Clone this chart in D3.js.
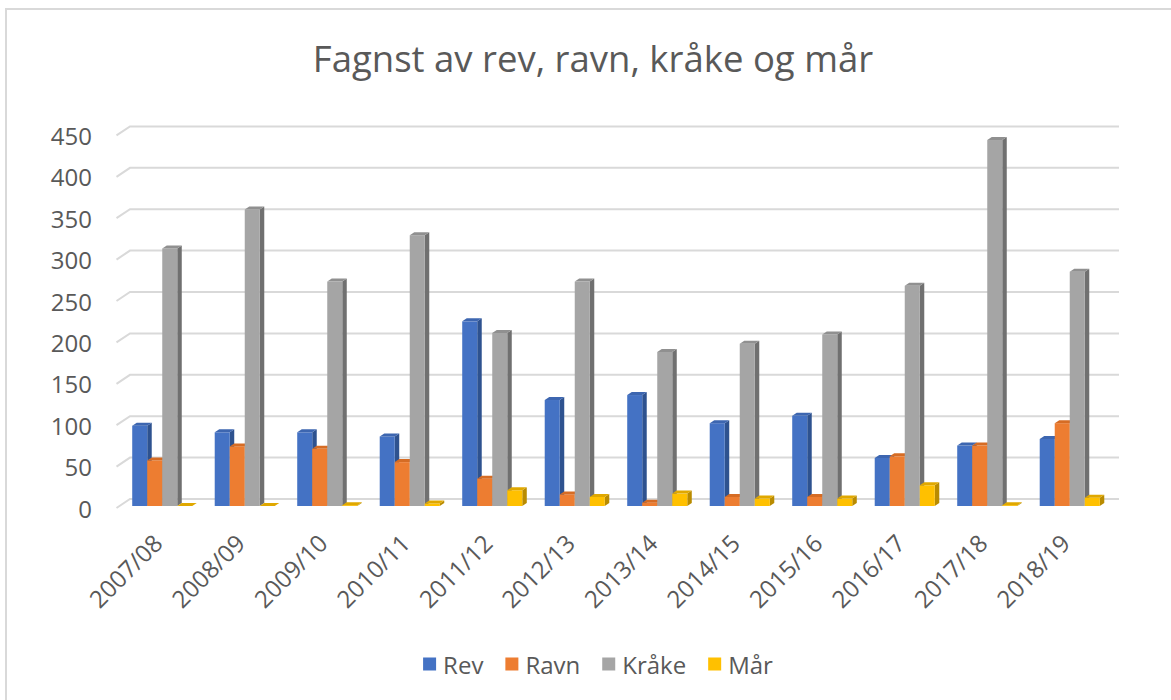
<!DOCTYPE html>
<html>
<head>
<meta charset="utf-8">
<script src="https://cdn.jsdelivr.net/npm/d3@7"></script>
<style>
  html, body { margin: 0; padding: 0; background: #fff; }
  text { font-family: "Open Sans", "Noto Sans", sans-serif; fill: #595959; }
</style>
</head>
<body>
<svg id="chart" width="1171" height="700"></svg>
<script>
const categories = ["2007/08","2008/09","2009/10","2010/11","2011/12","2012/13","2013/14","2014/15","2015/16","2016/17","2017/18","2018/19"];
const seriesNames = ["Rev","Ravn","Kråke","Mår"];
const rev    = [97, 89, 89, 84, 223, 128, 134, 100, 109, 58, 73, 81];
const ravn   = [55, 72, 69, 53, 33, 14, 4, 11, 11, 60, 73, 100];
const kraake = [311, 358, 271, 327, 209, 271, 186, 196, 207, 266, 442, 283];
const maar   = [0, 0, 1, 3, 19, 11, 15, 9, 9, 25, 1, 10];
const yTicks = [0, 50, 100, 150, 200, 250, 300, 350, 400, 450];
const title = "Fagnst av rev, ravn, kråke og mår";

const seriesValues = [rev, ravn, kraake, maar];
const colors = {
  front: ["#4472C4", "#ED7D31", "#A5A5A5", "#FFC000"],
  side:  ["#2E528F", "#B9591A", "#707070", "#B98B00"],
  top:   ["#3D66B0", "#D66C24", "#909090", "#E0A800"]
};

const svg = d3.select("#chart");
svg.append("rect").attr("x", 6).attr("y", 9).attr("width", 1300).attr("height", 900)
  .attr("fill", "#fff").attr("stroke", "#d9d9d9").attr("stroke-width", 2);

const y = d3.scaleLinear().domain([0, 450]).range([506, 133.4]);
const x0 = d3.scaleBand().domain(categories).range([121, 1111]).padding(0);
const x1 = d3.scaleBand().domain(seriesNames)
  .range([x0.bandwidth() * 0.136, x0.bandwidth() * 0.864]).padding(0);

const DX = 4.5, DY = -3;       // bar depth offsets
const WX = 13.5, WY = -9;      // wall depth offsets for gridlines
const backRight = 1119;

// gridlines
const grid = svg.append("g");
yTicks.forEach(t => {
  const yf = y(t) + 2;
  grid.append("path")
    .attr("d", `M${116.5},${yf} L${116.5 + WX},${yf + WY} L${backRight},${yf + WY}`)
    .attr("fill", "none").attr("stroke", "#d9d9d9").attr("stroke-width", 2);
});

// y labels
svg.append("g").selectAll("text").data(yTicks).join("text")
  .attr("x", 92).attr("y", d => y(d) + 2)
  .attr("text-anchor", "end").attr("dominant-baseline", "central")
  .style("font-size", "24px")
  .text(d => d);

// bars
const bars = svg.append("g");
categories.forEach((c, i) => {
  seriesNames.forEach((s, k) => {
    const v = seriesValues[k][i];
    const xl = x0(c) + x1(s);
    const w = x1.bandwidth();
    const yt = y(v), yb = y(0);
    const g = bars.append("g");
    // side face
    g.append("path")
      .attr("d", `M${xl + w},${yb} L${xl + w + DX},${yb + DY} L${xl + w + DX},${yt + DY} L${xl + w},${yt} Z`)
      .attr("fill", colors.side[k]);
    // front face
    g.append("rect").attr("x", xl).attr("y", yt).attr("width", w).attr("height", Math.max(0, yb - yt))
      .attr("fill", colors.front[k]);
    // top face
    g.append("path")
      .attr("d", `M${xl},${yt} L${xl + DX},${yt + DY} L${xl + w + DX},${yt + DY} L${xl + w},${yt} Z`)
      .attr("fill", colors.top[k]);
  });
});

// x labels
svg.append("g").selectAll("text").data(categories).join("text")
  .attr("transform", d => `translate(${x0(d) + x0.bandwidth() / 2 + 2},545) rotate(-45)`)
  .attr("text-anchor", "end")
  .style("font-size", "24px")
  .text(d => d);

// title
const tt = svg.append("text").attr("x", 593).attr("y", 72)
  .attr("text-anchor", "middle").style("font-size", "32px").text(title);
const tl = tt.node().getComputedTextLength();
tt.style("font-size", (32 * 560 / tl).toFixed(1) + "px");

// legend
const legend = svg.append("g");
let lx = 0;
const items = [];
seriesNames.forEach((s, k) => {
  const it = legend.append("g");
  it.append("rect").attr("x", 0).attr("y", -6.5).attr("width", 13).attr("height", 13).attr("fill", colors.front[k]);
  const t = it.append("text").attr("x", 20).attr("y", 0).attr("dominant-baseline", "central")
    .style("font-size", "24px").text(s);
  const w = 20 + t.node().getComputedTextLength();
  it.attr("transform", `translate(${lx},664)`);
  lx += w + 22;
  items.push(it);
});
const total = lx - 22;
legend.attr("transform", `translate(${598 - total / 2},0)`);
</script>
</body>
</html>
